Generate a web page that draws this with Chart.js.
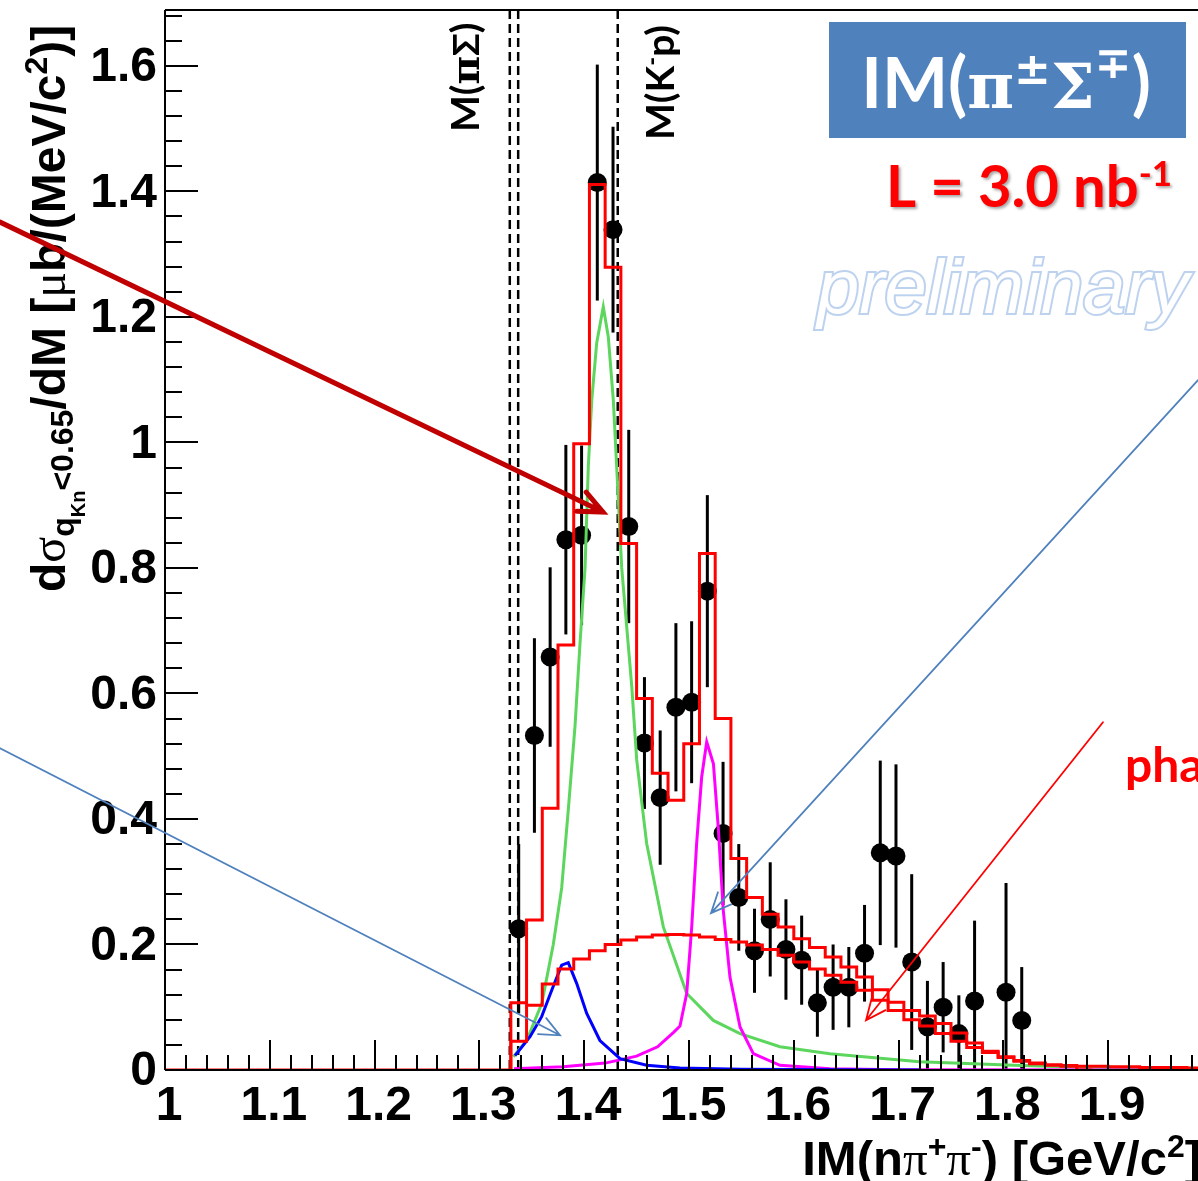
<!DOCTYPE html>
<html>
<head>
<meta charset="utf-8">
<script src="https://cdn.jsdelivr.net/npm/chart.js@4.4.1/dist/chart.umd.min.js"></script>
<style>
html, body { margin: 0; padding: 0; background: #fff; overflow: hidden; }
#wrap { width: 1198px; height: 1181px; overflow: hidden; }
canvas { display: block; }
</style>
</head>
<body>
<div id="wrap"><canvas id="myChart" width="1260" height="1181" style="width:1260px;height:1181px"></canvas></div>
<script>
// histogram binning: 15 MeV bins, first filled bin starts at 1.33 GeV
var binStart = 1.33;
var binWidth = 0.015;

// measured points (null = empty bin)
var dataY = [0.225, 0.533, 0.658, 0.845, 0.852, 1.414, 1.339, 0.866, 0.521, 0.434,
	0.578, 0.586, 0.763, 0.377, 0.275, 0.190, 0.240, 0.192, 0.175, 0.107,
	0.132, 0.132, 0.186, 0.346, 0.341, 0.172, 0.069, 0.100, 0.058, 0.110,
	null, 0.124, 0.079];
var dataErr = [0.135, 0.155, 0.143, 0.151, 0.143, 0.188, 0.164, 0.154, 0.105, 0.107,
	0.134, 0.129, 0.153, 0.114, 0.085, 0.067, 0.091, 0.080, 0.071, 0.054,
	0.068, 0.064, 0.077, 0.147, 0.146, 0.140, 0.073, 0.072, 0.061, 0.128,
	null, 0.174, 0.085];

// total fit histogram (red)
var totalFit = [0.107, 0.239, 0.417, 0.677, 0.998, 1.411, 1.279, 0.839, 0.592, 0.473,
	0.430, 0.520, 0.823, 0.560, 0.337, 0.275, 0.248, 0.228, 0.209, 0.195,
	0.180, 0.164, 0.148, 0.128, 0.108, 0.095, 0.086, 0.074, 0.059, 0.043,
	0.030, 0.021, 0.014, 0.010, 0.008, 0.007, 0.006, 0.006, 0.005, 0.005,
	0.004, 0.004, 0.004, 0.003, 0.003];

// phase space histogram (red)
var phaseSpace = [0.046, 0.103, 0.137, 0.161, 0.177, 0.190, 0.200, 0.207, 0.212, 0.215,
	0.216, 0.215, 0.212, 0.208, 0.204, 0.199, 0.192, 0.183, 0.172, 0.161,
	0.151, 0.140, 0.127, 0.111, 0.095, 0.080, 0.070, 0.058, 0.046, 0.036,
	0.028, 0.020, 0.015, 0.011, 0.008, 0.006, 0];

// fit components
var greenX = [1.3324, 1.3451, 1.3595, 1.3705, 1.3785, 1.3848, 1.3912, 1.3960, 1.4008, 1.4039,
	1.4072, 1.4119, 1.4182, 1.4230, 1.4278, 1.4310, 1.4358, 1.4454, 1.4501, 1.4596,
	1.4755, 1.4978, 1.5232, 1.5487, 1.5868, 1.6345, 1.72, 1.81, 1.86, 1.95, 2.0];
var greenY = [0.021, 0.047, 0.106, 0.200, 0.290, 0.414, 0.547, 0.680, 0.800, 0.961,
	1.067, 1.158, 1.216, 1.168, 1.067, 0.961, 0.800, 0.611, 0.494, 0.361,
	0.228, 0.122, 0.079, 0.058, 0.037, 0.026, 0.013, 0.0075, 0.005, 0.003, 0.0025];

var blueX = [1.3340, 1.3483, 1.3594, 1.3690, 1.3785, 1.3848, 1.3928, 1.4024, 1.4150, 1.4342,
	1.4596, 1.4914, 1.55, 1.65, 1.72];
var blueY = [0.023, 0.053, 0.085, 0.127, 0.167, 0.171, 0.138, 0.090, 0.047, 0.018,
	0.0075, 0.003, 0.001, 0.0003, 0];

var magentaX = [1.333, 1.38, 1.42, 1.45, 1.47, 1.4853, 1.4914, 1.4978, 1.5026, 1.5073,
	1.5121, 1.5169, 1.5233, 1.5279, 1.5327, 1.5391, 1.5487, 1.5614, 1.5868, 1.6345,
	1.70, 2.0];
var magentaY = [0.002, 0.005, 0.011, 0.022, 0.037, 0.060, 0.070, 0.122, 0.228, 0.361,
	0.467, 0.523, 0.488, 0.387, 0.2545, 0.148, 0.0685, 0.026, 0.0075, 0.002,
	0.0005, 0];

// thresholds M(pi Sigma) and M(K- p)
var mPiSigma = [1.329, 1.337];
var mKp = 1.432;

var xTicks = [1, 1.1, 1.2, 1.3, 1.4, 1.5, 1.6, 1.7, 1.8, 1.9, 2];
var xTickLabels = ['1', '1.1', '1.2', '1.3', '1.4', '1.5', '1.6', '1.7', '1.8', '1.9', '2'];
var yTicks = [0, 0.2, 0.4, 0.6, 0.8, 1, 1.2, 1.4, 1.6];
var yTickLabels = ['0', '0.2', '0.4', '0.6', '0.8', '1', '1.2', '1.4', '1.6'];

var AX = 'bold 48px "Liberation Sans"';

function zip(xs, ys){
	var out = [];
	for (var i = 0; i < xs.length; i++) out.push({x: xs[i], y: ys[i]});
	return out;
}

function histPoints(vals, from){
	var pts = [{x: from, y: 0}];
	for (var i = 0; i < vals.length; i++) pts.push({x: binStart + i * binWidth, y: vals[i]});
	pts.push({x: binStart + vals.length * binWidth, y: vals[vals.length - 1]});
	return pts;
}

function dataPoints(){
	var pts = [];
	for (var i = 0; i < dataY.length; i++){
		if (dataY[i] === null) continue;
		pts.push({x: binStart + (i + 0.5) * binWidth, y: dataY[i]});
	}
	return pts;
}

// draws a run of text pieces (sub/superscripts) starting at x,y
function drawRich(ctx, segs, x, y, align){
	var w = 0;
	segs.forEach(function(s){ ctx.font = s.f; w += ctx.measureText(s.t).width; });
	var cx = align === 'right' ? x - w : (align === 'center' ? x - w / 2 : x);
	ctx.textAlign = 'left';
	ctx.textBaseline = 'alphabetic';
	segs.forEach(function(s){
		ctx.font = s.f;
		ctx.fillText(s.t, cx, y + (s.dy || 0));
		cx += ctx.measureText(s.t).width;
	});
}

function arrow(ctx, xs, ys, a, color, lw, head){
	var x1 = xs.getPixelForValue(a[0]), y1 = ys.getPixelForValue(a[1]);
	var x2 = xs.getPixelForValue(a[2]), y2 = ys.getPixelForValue(a[3]);
	var ang = Math.atan2(y2 - y1, x2 - x1);
	ctx.save();
	ctx.strokeStyle = color;
	ctx.lineWidth = lw;
	ctx.lineCap = 'round';
	ctx.beginPath();
	ctx.moveTo(x1, y1);
	ctx.lineTo(x2, y2);
	ctx.moveTo(x2 - head * Math.cos(ang - 0.42), y2 - head * Math.sin(ang - 0.42));
	ctx.lineTo(x2, y2);
	ctx.lineTo(x2 - head * Math.cos(ang + 0.42), y2 - head * Math.sin(ang + 0.42));
	ctx.stroke();
	ctx.restore();
}

// annotation arrows [x1, y1, x2, y2] in axis units
var arrowBig = [0.8426, 1.351, 1.4179, 0.889];
var arrowBlue1 = [0.8426, 0.5127, 1.3769, 0.0553];
var arrowBlue2 = [1.9857, 1.0992, 1.5210, 0.2499];
var arrowRed = [1.8950, 0.5541, 1.6689, 0.0792];

var decor = {
	id: 'decor',
	beforeDatasetsDraw: function(chart){
		var ctx = chart.ctx, xs = chart.scales.x, ys = chart.scales.y, a = chart.chartArea;
		ctx.save();
		ctx.strokeStyle = '#000';
		ctx.lineWidth = 2.5;
		ctx.setLineDash([9, 5]);
		mPiSigma.concat([mKp]).forEach(function(m){
			var px = xs.getPixelForValue(m);
			ctx.beginPath();
			ctx.moveTo(px, a.top);
			ctx.lineTo(px, a.bottom);
			ctx.stroke();
		});
		ctx.restore();

		ctx.save();
		ctx.strokeStyle = '#000';
		ctx.lineWidth = 3;
		for (var i = 0; i < dataY.length; i++){
			if (dataY[i] === null) continue;
			var px = xs.getPixelForValue(binStart + (i + 0.5) * binWidth);
			ctx.beginPath();
			ctx.moveTo(px, ys.getPixelForValue(Math.max(0, dataY[i] - dataErr[i])));
			ctx.lineTo(px, ys.getPixelForValue(dataY[i] + dataErr[i]));
			ctx.stroke();
		}
		ctx.restore();
	},
	afterDraw: function(chart){
		var ctx = chart.ctx, xs = chart.scales.x, ys = chart.scales.y, a = chart.chartArea;
		var v, p;

		// frame + inward ticks
		ctx.save();
		ctx.strokeStyle = '#000';
		ctx.lineWidth = 2;
		ctx.beginPath();
		ctx.moveTo(a.left, a.top); ctx.lineTo(a.right, a.top);
		ctx.moveTo(a.left, a.top); ctx.lineTo(a.left, a.bottom);
		ctx.moveTo(a.left, a.bottom); ctx.lineTo(a.right, a.bottom);
		for (v = 0; v <= 1.689; v += 0.04){
			p = Math.round(ys.getPixelForValue(v));
			var major = Math.abs(v / 0.2 - Math.round(v / 0.2)) < 1e-6;
			ctx.moveTo(a.left, p); ctx.lineTo(a.left + (major ? 33 : 17), p);
		}
		for (v = 1; v <= 2.0001; v += 0.02){
			p = Math.round(xs.getPixelForValue(v));
			var majx = Math.abs(v / 0.1 - Math.round(v / 0.1)) < 1e-6;
			ctx.moveTo(p, a.bottom); ctx.lineTo(p, a.bottom - (majx ? 30 : 15));
		}
		ctx.stroke();

		// tick labels
		ctx.fillStyle = '#000';
		ctx.font = AX;
		ctx.textAlign = 'right';
		ctx.textBaseline = 'middle';
		yTicks.forEach(function(t, k){
			ctx.fillText(yTickLabels[k], a.left - 8, ys.getPixelForValue(t) + 2);
		});
		ctx.textAlign = 'center';
		ctx.textBaseline = 'alphabetic';
		xTicks.forEach(function(t, k){
			ctx.fillText(xTickLabels[k], xs.getPixelForValue(t) + 4, a.bottom + 50);
		});

		// x title
		var B = 'bold 49px "Liberation Sans"', S = 'bold 32px "Liberation Sans"', G = '49px "Liberation Serif"';
		drawRich(ctx, [
			{t: 'IM(n', f: B}, {t: 'π', f: G}, {t: '+', f: S, dy: -18}, {t: 'π', f: G}, {t: '-', f: S, dy: -18},
			{t: ') [GeV/c', f: B}, {t: '2', f: S, dy: -18}, {t: ']', f: B}
		], 1201, 1175, 'right');

		// y title
		B = 'bold 48px "Liberation Sans"'; G = '48px "Liberation Serif"';
		ctx.save();
		ctx.translate(65, 592);
		ctx.rotate(-Math.PI / 2);
		drawRich(ctx, [
			{t: 'd', f: B}, {t: 'σ', f: G}, {t: 'q', f: S, dy: 9}, {t: 'Kn', f: 'bold 20px "Liberation Sans"', dy: 20},
			{t: '<0.65', f: S, dy: 8}, {t: '/dM [', f: B}, {t: 'μ', f: G}, {t: 'b/(MeV/c', f: B},
			{t: '2', f: S, dy: -18}, {t: ')]', f: B}
		], 0, 0, 'left');
		ctx.restore();

		// threshold labels
		ctx.save();
		ctx.translate(479, 132);
		ctx.rotate(-Math.PI / 2);
		drawRich(ctx, [{t: 'M(', f: 'bold 39px Lato'}, {t: 'π', f: 'bold 39px "DejaVu Serif"'}, {t: 'Σ', f: 'bold 37px Lato'}, {t: ')', f: 'bold 39px Lato'}], 0, 0, 'left');
		ctx.restore();
		ctx.save();
		ctx.translate(674, 140);
		ctx.rotate(-Math.PI / 2);
		drawRich(ctx, [{t: 'M(K', f: 'bold 39px Lato'}, {t: '-', f: 'bold 24px Lato', dy: -14}, {t: 'p)', f: 'bold 39px Lato'}], 0, 0, 'left');
		ctx.restore();

		// label box
		ctx.fillStyle = '#4F81BD';
		ctx.fillRect(829, 22, 357, 116);
		ctx.fillStyle = '#fff';
		drawRich(ctx, [
			{t: 'IM(', f: 'bold 70px Lato'}, {t: 'π', f: 'bold 64px "DejaVu Serif"'}, {t: '±', f: 'bold 44px "DejaVu Sans"', dy: -24},
			{t: 'Σ', f: 'bold 62px "DejaVu Serif"'}, {t: '∓', f: 'bold 44px "DejaVu Sans"', dy: -30}, {t: ')', f: 'bold 70px Lato'}
		], 1006, 108, 'center');

		// luminosity
		ctx.save();
		ctx.shadowColor = 'rgba(0,0,0,0.35)';
		ctx.shadowOffsetX = 2; ctx.shadowOffsetY = 2; ctx.shadowBlur = 3;
		ctx.fillStyle = '#FF0000';
		drawRich(ctx, [{t: 'L = 3.0 nb', f: 'bold 58px Lato'}, {t: '-1', f: 'bold 35px Lato', dy: -21}], 886, 207, 'left');
		ctx.restore();

		// preliminary
		ctx.save();
		ctx.font = 'italic 76px "Liberation Sans"';
		ctx.textAlign = 'left';
		ctx.textBaseline = 'alphabetic';
		ctx.lineWidth = 4;
		ctx.strokeStyle = '#BDD2EE';
		ctx.fillStyle = '#fff';
		ctx.strokeText('preliminary', 817, 313);
		ctx.fillText('preliminary', 817, 313);
		ctx.restore();

		// phase space label (cut by the picture edge)
		ctx.fillStyle = '#FF0000';
		ctx.font = 'bold 48px Lato';
		ctx.textAlign = 'left';
		ctx.fillText('phase space', 1125, 782);

		arrow(ctx, xs, ys, arrowBig, '#C00000', 5, 26);
		arrow(ctx, xs, ys, arrowBlue1, '#4F81BD', 1.8, 22);
		arrow(ctx, xs, ys, arrowBlue2, '#4F81BD', 1.8, 22);
		arrow(ctx, xs, ys, arrowRed, '#FF0000', 1.8, 22);
		ctx.restore();
	}
};

var lineBase = {type: 'line', pointRadius: 0, borderWidth: 3, fill: false, tension: 0};

var ctx = document.getElementById('myChart').getContext('2d');
var myChart = new Chart(ctx, {
	type: 'scatter',
	data: {
		datasets: [
			Object.assign({}, lineBase, {label: 'total', data: histPoints(totalFit, 1.0), borderColor: '#FF0000', stepped: 'before', order: 0}),
			Object.assign({}, lineBase, {label: 'phase space', data: histPoints(phaseSpace, binStart), borderColor: '#FF0000', stepped: 'before', order: 1}),
			Object.assign({}, lineBase, {label: 'blue', data: zip(blueX, blueY), borderColor: '#0000FF', order: 2}),
			Object.assign({}, lineBase, {label: 'magenta', data: zip(magentaX, magentaY), borderColor: '#FF00FF', order: 3}),
			Object.assign({}, lineBase, {label: 'green', data: zip(greenX, greenY), borderColor: '#5CD65C', order: 4}),
			{type: 'scatter', label: 'data', data: dataPoints(), pointRadius: 9.5, pointBackgroundColor: '#000', pointBorderWidth: 0, order: 5}
		]
	},
	options: {
		responsive: false,
		animation: false,
		devicePixelRatio: 1,
		layout: {padding: {top: 10, right: 47, left: 0, bottom: 0}},
		plugins: {legend: {display: false}, tooltip: {enabled: false}},
		scales: {
			x: {type: 'linear', min: 1, max: 2, ticks: {display: false}, grid: {display: false, drawTicks: false}, border: {display: false},
				afterFit: function(s){ s.height = 111; }},
			y: {type: 'linear', min: 0, max: 1.689, ticks: {display: false}, grid: {display: false, drawTicks: false}, border: {display: false},
				afterFit: function(s){ s.width = 165; }}
		}
	},
	plugins: [decor]
});
</script>
</body>
</html>
